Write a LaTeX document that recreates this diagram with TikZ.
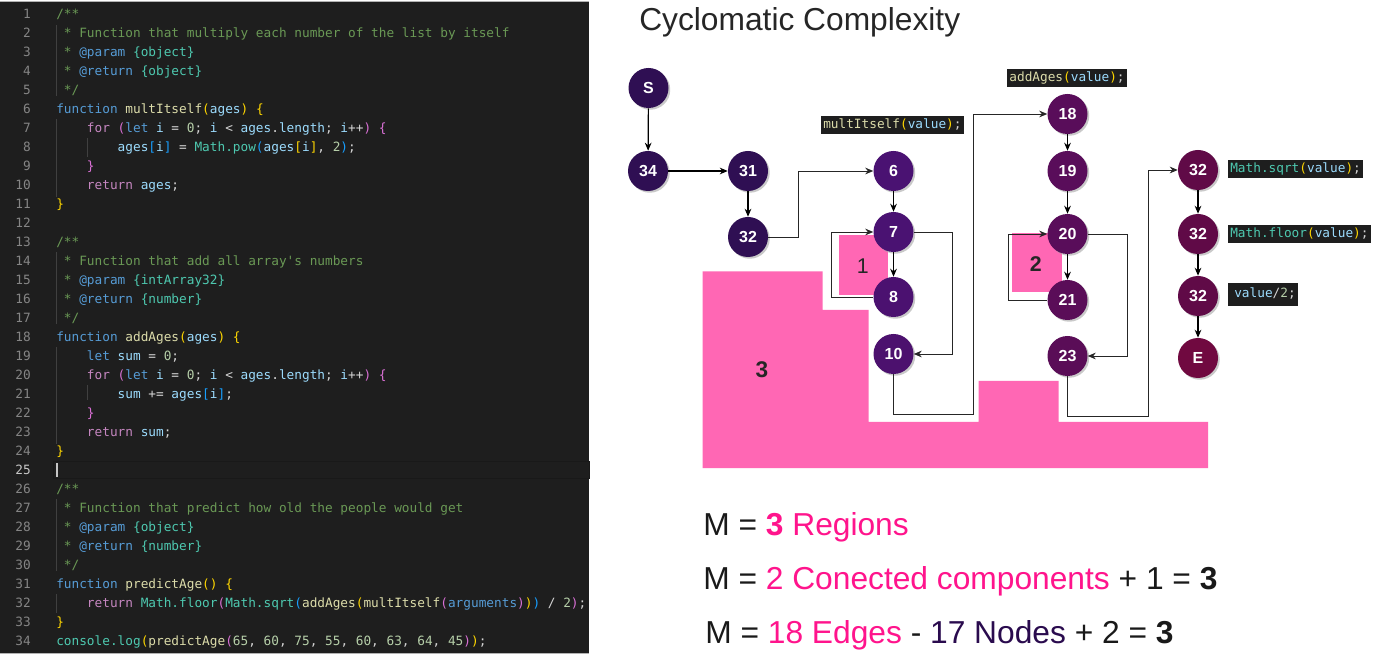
\documentclass[tikz,border=0pt]{standalone}
\usepackage{fontspec}
\setmainfont{Liberation Sans}
\setmonofont{DejaVu Sans Mono}
\usetikzlibrary{arrows.meta,shadows}

\definecolor{cbg}{HTML}{1E1E1E}
\definecolor{cnum}{HTML}{858585}
\definecolor{cnumact}{HTML}{C6C6C6}
\definecolor{ccom}{HTML}{6A9955}
\definecolor{ctag}{HTML}{569CD6}
\definecolor{ctype}{HTML}{4EC9B0}
\definecolor{ckw}{HTML}{569CD6}
\definecolor{cctl}{HTML}{C586C0}
\definecolor{cfn}{HTML}{DCDCAA}
\definecolor{cvar}{HTML}{9CDCFE}
\definecolor{clit}{HTML}{B5CEA8}
\definecolor{cop}{HTML}{D4D4D4}
\definecolor{ccls}{HTML}{4EC9B0}
\definecolor{cbA}{HTML}{FFD700}
\definecolor{cbB}{HTML}{DA70D6}
\definecolor{cbC}{HTML}{179FFF}
\definecolor{guide}{HTML}{404040}
\definecolor{regfill}{HTML}{FF67B4}
\definecolor{pinktxt}{HTML}{FF148C}
\definecolor{purptxt}{HTML}{2A0B4E}
\definecolor{nodeA}{HTML}{2F0F53}
\definecolor{nodeB}{HTML}{4A1272}
\definecolor{nodeC}{HTML}{590D5A}
\definecolor{nodeD}{HTML}{600A47}

\newcommand\tk[2]{\textcolor{#1}{#2}}
\newcommand\codeln[3]{\node[codetxt] (code#1) at ({56+#2*7.68},{18.5+(#1-1)*18.99}) {#3};}

\begin{document}
\begin{tikzpicture}[
  x=0.75pt, y=-0.75pt,
  codetxt/.style={
    anchor=base west,
    inner sep=0pt,
    text=cop,
    font=\ttfamily\fontsize{9.57}{12}\selectfont
  },
  lnum/.style={
    anchor=base east,
    inner sep=0pt,
    text=cnum,
    font=\ttfamily\fontsize{9.57}{12}\selectfont
  },
  lbl/.style={
    fill=cbg,
    text=cop,
    inner xsep=1.5pt,
    inner ysep=0pt,
    minimum height=13.5pt,
    text height=7.4pt,
    text depth=2.2pt,
    font=\ttfamily\fontsize{9.57}{12}\selectfont
  },
  vert/.style={
    circle,
    minimum size=30pt,
    inner sep=0pt,
    text=white,
    font=\bfseries\fontsize{12}{12}\selectfont,
    drop shadow={shadow xshift=1.3pt, shadow yshift=-1.3pt, fill=black!35, opacity=0.6}
  },
  arr/.style={-{Stealth[length=6pt,width=5pt]}, line width=0.9pt},
  route/.style={-{Stealth[length=6pt,width=5pt]}, line width=0.7pt, black!85},
  reg/.style={font=\fontsize{16}{16}\selectfont, text=black!85},
  eq/.style={anchor=base west, inner sep=0pt, text=black!90, font=\fontsize{23.8}{28}\selectfont}
]
\useasboundingbox (0,0) rectangle (1373,655);
\fill[white] (0,0) rectangle (1373,655);

\fill[cbg] (0,2) rectangle (589,653);
\draw[gray!60] (0,1.5) -- (589,1.5);
\draw[gray!60] (0,653.5) -- (589,653.5);
\draw[black!80!gray] (53,461) rectangle (589,478);
\draw[guide] (56,25) -- (56,96);
\draw[guide] (56,119) -- (56,197);
\draw[guide] (87,138) -- (87,157);
\draw[guide] (56,252) -- (56,324);
\draw[guide] (56,347) -- (56,444);
\draw[guide] (87,385) -- (87,400);
\draw[guide] (56,499) -- (56,571);
\draw[guide] (56,594) -- (56,613);
\draw[cnumact, line width=1.2pt] (57,463) -- (57,477);

\foreach \n in {1,...,24,26,27,...,34}
  \node[lnum] (num\n) at (31,{18.5+(\n-1)*18.99}) {\n};
\node[lnum, text=cnumact] (num25) at (31,{18.5+24*18.99}) {25};

\codeln{1}{0}{\tk{ccom}{/**}}
\codeln{2}{1}{\tk{ccom}{* Function that multiply each number of the list by itself}}
\codeln{3}{1}{\tk{ccom}{*} \tk{ctag}{@param} \tk{ctype}{\{object\}}}
\codeln{4}{1}{\tk{ccom}{*} \tk{ctag}{@return} \tk{ctype}{\{object\}}}
\codeln{5}{1}{\tk{ccom}{*/}}
\codeln{6}{0}{\tk{ckw}{function} \tk{cfn}{multItself}\tk{cbA}{(}\tk{cvar}{ages}\tk{cbA}{)} \tk{cbA}{\{}}
\codeln{7}{4}{\tk{cctl}{for} \tk{cbB}{(}\tk{ckw}{let} \tk{cvar}{i} = \tk{clit}{0}; \tk{cvar}{i} < \tk{cvar}{ages}.\tk{cvar}{length}; \tk{cvar}{i}++\tk{cbB}{)} \tk{cbB}{\{}}
\codeln{8}{8}{\tk{cvar}{ages}\tk{cbC}{[}\tk{cvar}{i}\tk{cbC}{]} = \tk{ccls}{Math.pow}\tk{cbC}{(}\tk{cvar}{ages}\tk{cbA}{[}\tk{cvar}{i}\tk{cbA}{]}, \tk{clit}{2}\tk{cbC}{)};}
\codeln{9}{4}{\tk{cbB}{\}}}
\codeln{10}{4}{\tk{cctl}{return} \tk{cvar}{ages};}
\codeln{11}{0}{\tk{cbA}{\}}}
\codeln{13}{0}{\tk{ccom}{/**}}
\codeln{14}{1}{\tk{ccom}{* Function that add all array's numbers}}
\codeln{15}{1}{\tk{ccom}{*} \tk{ctag}{@param} \tk{ctype}{\{intArray32\}}}
\codeln{16}{1}{\tk{ccom}{*} \tk{ctag}{@return} \tk{ctype}{\{number\}}}
\codeln{17}{1}{\tk{ccom}{*/}}
\codeln{18}{0}{\tk{ckw}{function} \tk{cfn}{addAges}\tk{cbA}{(}\tk{cvar}{ages}\tk{cbA}{)} \tk{cbA}{\{}}
\codeln{19}{4}{\tk{ckw}{let} \tk{cvar}{sum} = \tk{clit}{0};}
\codeln{20}{4}{\tk{cctl}{for} \tk{cbB}{(}\tk{ckw}{let} \tk{cvar}{i} = \tk{clit}{0}; \tk{cvar}{i} < \tk{cvar}{ages}.\tk{cvar}{length}; \tk{cvar}{i}++\tk{cbB}{)} \tk{cbB}{\{}}
\codeln{21}{8}{\tk{cvar}{sum} += \tk{cvar}{ages}\tk{cbC}{[}\tk{cvar}{i}\tk{cbC}{]};}
\codeln{22}{4}{\tk{cbB}{\}}}
\codeln{23}{4}{\tk{cctl}{return} \tk{cvar}{sum};}
\codeln{24}{0}{\tk{cbA}{\}}}
\codeln{26}{0}{\tk{ccom}{/**}}
\codeln{27}{1}{\tk{ccom}{* Function that predict how old the people would get}}
\codeln{28}{1}{\tk{ccom}{*} \tk{ctag}{@param} \tk{ctype}{\{object\}}}
\codeln{29}{1}{\tk{ccom}{*} \tk{ctag}{@return} \tk{ctype}{\{number\}}}
\codeln{30}{1}{\tk{ccom}{*/}}
\codeln{31}{0}{\tk{ckw}{function} \tk{cfn}{predictAge}\tk{cbA}{()} \tk{cbA}{\{}}
\codeln{32}{4}{\tk{cctl}{return} \tk{ccls}{Math.floor}\tk{cbB}{(}\tk{ccls}{Math.sqrt}\tk{cbC}{(}\tk{cfn}{addAges}\tk{cbA}{(}\tk{cfn}{multItself}\tk{cbB}{(}\tk{ckw}{arguments}\tk{cbB}{)}\tk{cbA}{)}\tk{cbC}{)} / \tk{clit}{2}\tk{cbB}{)};}
\codeln{33}{0}{\tk{cbA}{\}}}
\codeln{34}{0}{\tk{ccls}{console.log}\tk{cbA}{(}\tk{cfn}{predictAge}\tk{cbB}{(}\tk{clit}{65}, \tk{clit}{60}, \tk{clit}{75}, \tk{clit}{55}, \tk{clit}{60}, \tk{clit}{63}, \tk{clit}{64}, \tk{clit}{45}\tk{cbB}{)}\tk{cbA}{)};}

\node[anchor=base west, inner sep=0pt, text=black!85, font=\fontsize{23.8}{28}\selectfont] (title) at (639,31) {Cyclomatic Complexity};

\fill[regfill] (702.5,271.5) -- (822.5,271.5) -- (822.5,310) -- (868.5,310) -- (868.5,422) -- (978.5,422) -- (978.5,381) -- (1058.5,381) -- (1058.5,422) -- (1208,422) -- (1208,468) -- (702.5,468) -- cycle;
\fill[regfill] (839,235) rectangle (888,295);
\fill[regfill] (1012,233) rectangle (1062,292);
\node[reg] (r1) at (862.7,266) {1};
\node[reg, font=\bfseries\fontsize{16}{16}\selectfont] (r2) at (1035.7,264) {2};
\node[reg, font=\bfseries\fontsize{17}{17}\selectfont] (r3) at (762,370) {3};

\node[vert, fill=nodeA] (s) at (648.5,88) {S};
\node[vert, fill=nodeA] (n34) at (648,171) {34};
\node[vert, fill=nodeA] (n31) at (748,171) {31};
\node[vert, fill=nodeA] (n32a) at (748,237) {32};
\node[vert, fill=nodeB] (n6) at (893.5,171) {6};
\node[vert, fill=nodeB] (n7) at (893.5,232) {7};
\node[vert, fill=nodeB!90!nodeC] (n8) at (893.5,297) {8};
\node[vert, fill=nodeB!85!nodeC] (n10) at (893.5,354) {10};
\node[vert, fill=nodeC] (n18) at (1067.5,114) {18};
\node[vert, fill=nodeC] (n19) at (1067.5,171) {19};
\node[vert, fill=nodeC] (n20) at (1067.5,234) {20};
\node[vert, fill=nodeC!90!nodeD] (n21) at (1067.5,300) {21};
\node[vert, fill=nodeC!85!nodeD] (n23) at (1067.5,356) {23};
\node[vert, fill=nodeD] (n32b) at (1198,170) {32};
\node[vert, fill=nodeD] (n32c) at (1198,234) {32};
\node[vert, fill=nodeD] (n32d) at (1198,296) {32};
\node[vert, fill=nodeD!90!red] (e) at (1198,358) {E};

\node[lbl] (lblmult) at (892.4,125) {\tk{cfn}{multItself}\tk{cbA}{(}\tk{cvar}{value}\tk{cbA}{)};};
\node[lbl] (lbladd) at (1067,78.3) {\tk{cfn}{addAges}\tk{cbA}{(}\tk{cvar}{value}\tk{cbA}{)};};
\node[lbl, anchor=west] (lblsqrt) at (1228,169) {\tk{ccls}{Math.sqrt}\tk{cbA}{(}\tk{cvar}{value}\tk{cbA}{)};};
\node[lbl, anchor=west] (lblfloor) at (1228,234.5) {\tk{ccls}{Math.floor}\tk{cbA}{(}\tk{cvar}{value}\tk{cbA}{)};};
\node[lbl, anchor=west, minimum height=17pt] (lblhalf) at (1228,294.5) {\hspace{3pt}\tk{cvar}{value}/\tk{clit}{2};};

\coordinate (bend10) at (973.5,414);
\coordinate (bend23) at (1148,416);

\draw[arr] (s) -- (n34);
\draw[arr] (n34) -- (n31);
\draw[arr] (n31) -- (n32a);
\draw[route] (n32a.east) -- ++(30,0) |- (n6.west);
\draw[arr] (n6) -- (n7);
\draw[arr] (n7) -- (n8);
\draw[route] (n8.west) -- ++(-42,0) |- (n7.west);
\draw[route] (n7.east) -- ++(39,0) |- (n10.east);
\draw[route] (n10.south) |- (bend10) |- (n18.west);
\draw[arr] (n18) -- (n19);
\draw[arr] (n19) -- (n20);
\draw[arr] (n20) -- (n21);
\draw[route] (n21.west) -- ++(-39,0) |- (n20.west);
\draw[route] (n20.east) -- ++(40,0) |- (n23.east);
\draw[route] (n23.south) |- (bend23) |- (n32b.west);
\draw[arr] (n32b) -- (n32c);
\draw[arr] (n32c) -- (n32d);
\draw[arr] (n32d) -- (e);

\node[eq] (eq1) at (703,535) {M = \textcolor{pinktxt}{\textbf{3} Regions}};
\node[eq] (eq2) at (703,589) {M = \textcolor{pinktxt}{2 Conected components} + 1 = \textbf{3}};
\node[eq] (eq3) at (705,643) {M = \textcolor{pinktxt}{18 Edges} - \textcolor{purptxt}{17 Nodes} + 2 = \textbf{3}};
\end{tikzpicture}
\end{document}
